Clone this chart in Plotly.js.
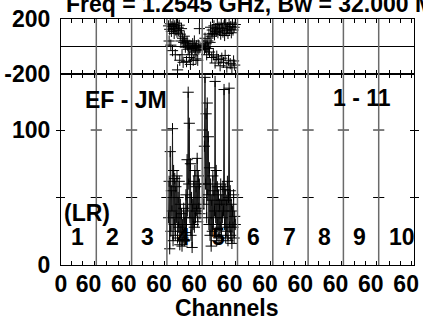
<!DOCTYPE html>
<html><head><meta charset="utf-8">
<script src="https://cdn.plot.ly/plotly-3.0.1.min.js"></script>
<style>html,body{margin:0;padding:0;background:#fff}#chart{width:423px;height:322px}</style>
</head><body><div id="chart"></div>
<script>
const titleText = 'Freq = 1.2545 GHz, Bw = 32.000 MHz';
const baselineText = 'EF - JM';
const timeText = '1 - 11';
const stokesText = '(LR)';
const xTitle = 'Channels';
const ifLabels = ['1','2','3','4','5','6','7','8','9','10'];
const chanFirst = 1, chanLast = 64;
const chanTicks = [20, 40, 60];
const chanLabelFirst = '0', chanLabel = '60';
const ampTicks = [0, 50, 100];
const ampTickText = ['0', '', '100'];
const ampDividerTicks = [50, 100];
const phaseTicks = [-200, 200];
const phaseTickText = ['-200', '200'];

// channels with data (IF 4 and IF 5)
const channels = [4,5,6,7,8,9,10,11,12,13,14,15,16,17,18,19,20,21,22,23,24,25,26,27,28,29,30,31,32,
  33,34,35,36,37,38,39,40,41,42,43,44,45,46,47,48,49,50,51,52,53,54,55,56,57,58,59,60];

const if4Amp = [35,62,12,84,25,55,40,101,18,70,30,64,22,58,35,66,20,50,28,62,15,45,25,38,14,30,20,42,18,
  35,24,52,30,78,40,128,60,105,35,75,22,50,13,45,30,62,28,70,35,58,40,79,32,66,42,60,38];
const if5Amp = [45,88,139,60,112,35,120,52,95,30,72,22,60,14,48,25,66,30,55,40,136,35,70,18,58,30,52,20,45,
  28,60,22,48,35,58,40,130,30,56,20,48,25,62,18,50,131,28,55,22,45,16,40,28,52,20,36,30];

const if4Phase = [150,40,125,165,10,110,145,-30,160,130,95,150,-60,120,170,105,-170,140,115,155,-100,90,40,130,-60,
  60,-115,30,75,45,-5,20,-110,35,10,-20,0,-80,-10,-130,5,-60,-15,20,-100,-5,40,-40,-10,-90,5,-30,-100,10,-20,130,-5];
const if5Phase = [10,-20,60,-5,20,-60,0,40,-15,90,-40,30,140,75,-80,120,95,-60,150,85,-120,130,110,-70,160,
  100,-95,140,120,-140,90,165,-85,130,105,-115,150,80,-65,170,115,-150,135,95,-100,160,125,-125,145,100,-155,170,120,-105,140,-135,160];

const dataIFs = [4, 5];
const ampSeries = [if4Amp, if5Amp];
const phaseSeries = [if4Phase, if5Phase];

const span = chanLast - chanFirst;
const nIF = ifLabels.length;
const gx = (ifNum, ch) => (ifNum - 1) * span + (ch - chanFirst);

const FONT = {family: 'Liberation Sans, Arial, sans-serif', size: 23, color: '#000', weight: 'bold'};
const markerStyle = {symbol: 'cross-thin', size: 8, color: '#000', line: {width: 1, color: '#000'}};

const traces = [];
dataIFs.forEach((ifn, k) => {
  traces.push({x: channels.map(c => gx(ifn, c)), y: ampSeries[k], xaxis: 'x', yaxis: 'y',
    mode: 'lines+markers', line: {color: '#1a1a1a', width: 1}, marker: markerStyle,
    hoverinfo: 'skip', showlegend: false});
  traces.push({x: channels.map(c => gx(ifn, c)), y: phaseSeries[k], xaxis: 'x3', yaxis: 'y2',
    mode: 'markers', marker: markerStyle, hoverinfo: 'skip', showlegend: false, cliponaxis: true});
});
// small amplitude ticks across the IF dividers
const divX = [], divY = [];
for (let p = 1; p < nIF; p++) ampDividerTicks.forEach(v => { divX.push(p * span); divY.push(v); });
traces.push({x: divX, y: divY, xaxis: 'x', yaxis: 'y', mode: 'markers',
  marker: {symbol: 'line-ew', size: 8, line: {width: 1, color: '#000'}}, hoverinfo: 'skip', showlegend: false});
traces.push({x: [], y: [], xaxis: 'x2', yaxis: 'y', mode: 'markers', showlegend: false});

const tickPos = [], labPos = [], labText = [chanLabelFirst];
labPos.push(0);
for (let p = 0; p < nIF; p++) {
  chanTicks.forEach(c => tickPos.push(gx(p + 1, c)));
  labPos.push(gx(p + 1, chanLast) - 14);
  labText.push(chanLabel);
}

const shapes = [];
for (let p = 1; p < nIF; p++) {
  shapes.push({type: 'line', xref: 'x', yref: 'paper', x0: p * span, x1: p * span, y0: 0, y1: 1,
    line: {color: '#6a6a6a', width: 1.5}, layer: 'above'});
}

const annotations = [
  {text: titleText, xref: 'paper', yref: 'paper', x: 0.008, y: 1.062, xanchor: 'left', yanchor: 'middle', showarrow: false, font: FONT},
  {text: baselineText, xref: 'x', yref: 'y', x: 116, y: 122, xanchor: 'center', yanchor: 'middle', showarrow: false, font: FONT},
  {text: timeText, xref: 'x', yref: 'y', x: 537, y: 124, xanchor: 'center', yanchor: 'middle', showarrow: false, font: FONT},
  {text: stokesText, xref: 'x', yref: 'y', x: 1, y: 38.5, xanchor: 'left', yanchor: 'middle', showarrow: false, font: FONT},
  {text: xTitle, xref: 'paper', yref: 'paper', x: 0.47, y: -0.175, xanchor: 'center', yanchor: 'middle', showarrow: false, font: FONT}
];
ifLabels.forEach((lab, p) => annotations.push({text: lab, xref: 'x', yref: 'y', x: p * span + 14, y: 20.7,
  xanchor: 'left', yanchor: 'middle', showarrow: false, font: FONT}));

const ampDomTop = 0.7764;
const layout = {
  width: 423, height: 322, margin: {l: 61, r: 9, t: 19, b: 57},
  paper_bgcolor: '#fff', plot_bgcolor: '#fff', font: FONT, showlegend: false,
  xaxis: {anchor: 'y', domain: [0, 1], range: [0, nIF * span], tickvals: tickPos, ticks: 'inside', ticklen: 4,
    tickcolor: '#000', tickwidth: 1, showticklabels: false, showline: true, linecolor: '#000', linewidth: 1,
    mirror: 'allticks', showgrid: false, zeroline: false},
  xaxis2: {anchor: 'y', overlaying: 'x', side: 'bottom', range: [0, nIF * span], tickvals: labPos, ticktext: labText,
    ticks: '', showline: false, showgrid: false, zeroline: false, tickfont: FONT, ticklabelstandoff: 3},
  xaxis3: {anchor: 'y2', matches: 'x', range: [0, nIF * span], tickvals: tickPos, ticks: 'inside', ticklen: 4,
    tickcolor: '#000', showticklabels: false, showline: true, linecolor: '#000', linewidth: 1, mirror: 'allticks',
    showgrid: false, zeroline: false},
  yaxis: {anchor: 'x', domain: [0, ampDomTop], range: [0, 141.5], tickvals: ampTicks, ticktext: ampTickText,
    ticks: 'inside', ticklen: 4, tickcolor: '#000', showline: true, linecolor: '#000', linewidth: 1,
    mirror: 'allticks', showgrid: false, zeroline: false, tickfont: FONT, ticklabelstandoff: 5},
  yaxis2: {anchor: 'x3', domain: [ampDomTop, 1], range: [-200, 200], tickvals: phaseTicks, ticktext: phaseTickText,
    ticks: '', showline: true, linecolor: '#000', linewidth: 1, mirror: true, showgrid: false,
    zeroline: true, zerolinecolor: '#000', zerolinewidth: 1, tickfont: FONT, ticklabelstandoff: 5},
  shapes: shapes, annotations: annotations
};
Plotly.newPlot('chart', traces, layout, {staticPlot: true, displayModeBar: false});
</script></body></html>
